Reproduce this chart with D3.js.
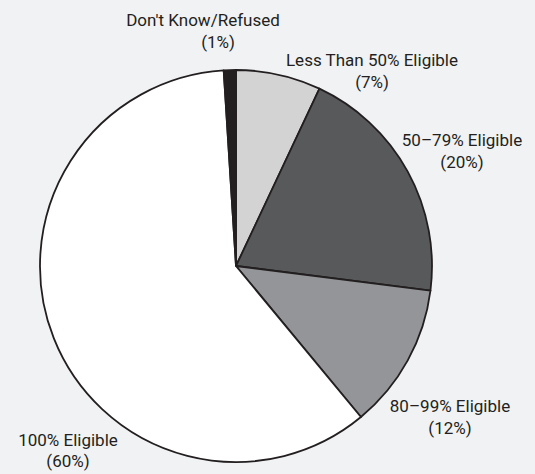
<!DOCTYPE html>
<html><head><meta charset="utf-8">
<script src="https://cdn.jsdelivr.net/npm/d3@7"></script>
<style>
html,body{margin:0;padding:0;background:#f1f2f4;}
text{font-family:"Roboto","Liberation Sans",sans-serif;fill:#231f20;}
</style></head>
<body>
<svg id="c" width="535" height="474"></svg>
<script>
const categories = ["Less Than 50% Eligible","50\u201379% Eligible","80\u201399% Eligible","100% Eligible","Don't Know/Refused"];
const values = [7, 20, 12, 60, 1];
const valueLabels = ["(7%)","(20%)","(12%)","(60%)","(1%)"];
const colors = ["#d3d3d4","#58595b","#939598","#ffffff","#231f20"];

const svg = d3.select("#c");
const cx = 236, cy = 266, r = 196;
const g = svg.append("g").attr("transform", `translate(${cx},${cy})`);
const pie = d3.pie().sort(null).value(d => d.v);
const data = categories.map((c,i) => ({c, v: values[i], lab: valueLabels[i], col: colors[i]}));
const arcs = pie(data);
const arc = d3.arc().innerRadius(0).outerRadius(r);
g.selectAll("path").data(arcs).join("path")
  .attr("d", arc).attr("fill", d => d.data.col)
  .attr("stroke", "#231f20").attr("stroke-width", 1.8).attr("stroke-linejoin","round");

const labelPos = [[372,66],[462,146],[450,412],[68,446],[203,26]];
const lg = svg.append("g");
data.forEach((d,i) => {
  const t = lg.append("text").attr("x", labelPos[i][0]).attr("y", labelPos[i][1])
    .attr("text-anchor","middle").attr("font-size", 17);
  t.append("tspan").attr("x", labelPos[i][0]).text(d.c);
  t.append("tspan").attr("x", labelPos[i][0] + (i===4 ? 15 : 0)).attr("dy", i===3 ? 21 : 22).text(d.lab);
});
</script>
</body></html>
